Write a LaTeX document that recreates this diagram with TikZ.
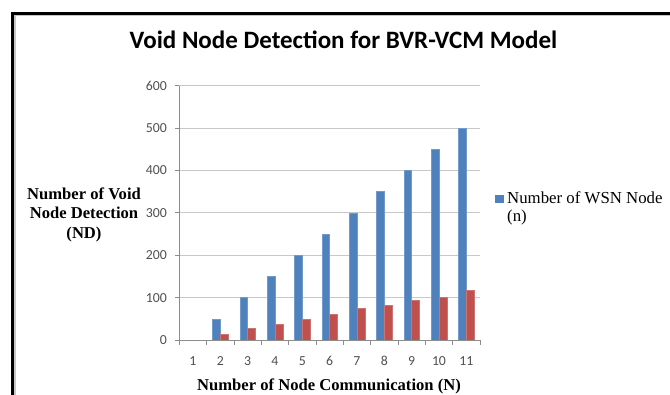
\documentclass[tikz,border=0pt]{standalone}
\usepackage{fontspec}
\setmainfont{Liberation Serif}
\newfontfamily\calibri{Carlito}
\definecolor{barblue}{HTML}{4F81BD}
\definecolor{barred}{HTML}{C0504D}
\definecolor{gridgray}{HTML}{C8C8C8}
\definecolor{axisgray}{HTML}{8C8C8C}
\definecolor{ticktext}{HTML}{505050}

% plot geometry (1pt = 1px, y grows downwards)
\def\xl{179.3}   % left edge of plot area
\def\xr{480}     % right edge of plot area
\def\yz{340}     % y of the value 0
\def\sc{0.4238}  % px per unit of value
\def\cw{27.336}  % width of one category
\def\bw{7.8}     % width of one bar

\tikzset{
  gridline/.style={gridgray, line width=0.9pt},
  axisline/.style={axisgray, line width=0.9pt},
  ticklabel/.style={font=\calibri\fontsize{13.8}{16}\selectfont, text=ticktext, inner sep=0pt},
  axistitle/.style={font=\bfseries\fontsize{16.6}{19.5}\selectfont, inner sep=0pt},
  legendtext/.style={font=\fontsize{16.8}{19}\selectfont, inner sep=0pt, anchor=base west},
  bluebar/.style={fill=barblue, draw=barblue!80!white, line width=0.4pt},
  redbar/.style={fill=barred, draw=barred!80!white, line width=0.4pt},
}

\begin{document}
\begin{tikzpicture}[x=1pt, y=-1pt]
\useasboundingbox (0,0) rectangle (670,394);
\clip (0,0) rectangle (670,394);
\fill[white] (0,0) rectangle (670,394);

% chart frame (runs off the right and bottom)
\draw[black, line width=3pt] (12.5,400) -- (12.5,13.3) -- (690,13.3);
\draw[black!22, line width=1.2pt] (14.9,400) -- (14.9,15.6) -- (690,15.6);

% title
\node[font=\calibri\bfseries\fontsize{25}{30}\selectfont, inner sep=0pt, anchor=base]
  (title) at (343.5,48.3) {Void Node Detection for BVR-VCM Model};

% horizontal gridlines and value labels
\foreach \v in {100,200,...,600} {
  \draw[gridline] (\xl,{\yz-\v*\sc}) -- (\xr,{\yz-\v*\sc});
}
\foreach \v in {0,100,...,600} {
  \draw[axisline] ({\xl-4.5},{\yz-\v*\sc}) -- (\xl,{\yz-\v*\sc});
  \node[ticklabel, anchor=east] (ylab\v) at (167,{\yz-\v*\sc}) {\v};
}

% bars: category / WSN nodes / void nodes detected
\foreach \i/\b/\r in {2/50/13, 3/100/27, 4/150/37, 5/200/50, 6/250/62,
                      7/300/76, 8/350/82, 9/400/93, 10/450/101, 11/500/117} {
  \fill[bluebar] ({\xl+(\i-0.5)*\cw-\bw},\yz) rectangle ({\xl+(\i-0.5)*\cw},{\yz-\b*\sc});
  \fill[redbar]  ({\xl+(\i-0.5)*\cw},\yz) rectangle ({\xl+(\i-0.5)*\cw+\bw},{\yz-\r*\sc});
}

% axes
\draw[axisline] (\xl,{\yz-600*\sc}) -- (\xl,\yz) -- (\xr,\yz);
\foreach \k in {0,...,11} {
  \draw[axisline] ({\xl+\k*\cw},\yz) -- ({\xl+\k*\cw},{\yz+5});
}
\foreach \i in {1,...,11} {
  \node[ticklabel, anchor=base] (xlab\i) at ({\xl+(\i-0.5)*\cw},365.5) {\i};
}

% axis titles
\node[axistitle, anchor=base] (ytitleA) at (84,199) {Number of Void};
\node[axistitle, anchor=base] (ytitleB) at (84,218.5) {Node Detection};
\node[axistitle, anchor=base] (ytitleC) at (84,238) {(ND)};
\node[axistitle, anchor=base] (xtitle) at (329,390.5) {Number of Node Communication (N)};

% legend
\fill[barblue] (495,194.5) rectangle (503.5,203);
\node[legendtext] (legA) at (507,203.3) {Number of WSN Node};
\node[legendtext] (legB) at (507,221) {(n)};
\end{tikzpicture}
\end{document}
